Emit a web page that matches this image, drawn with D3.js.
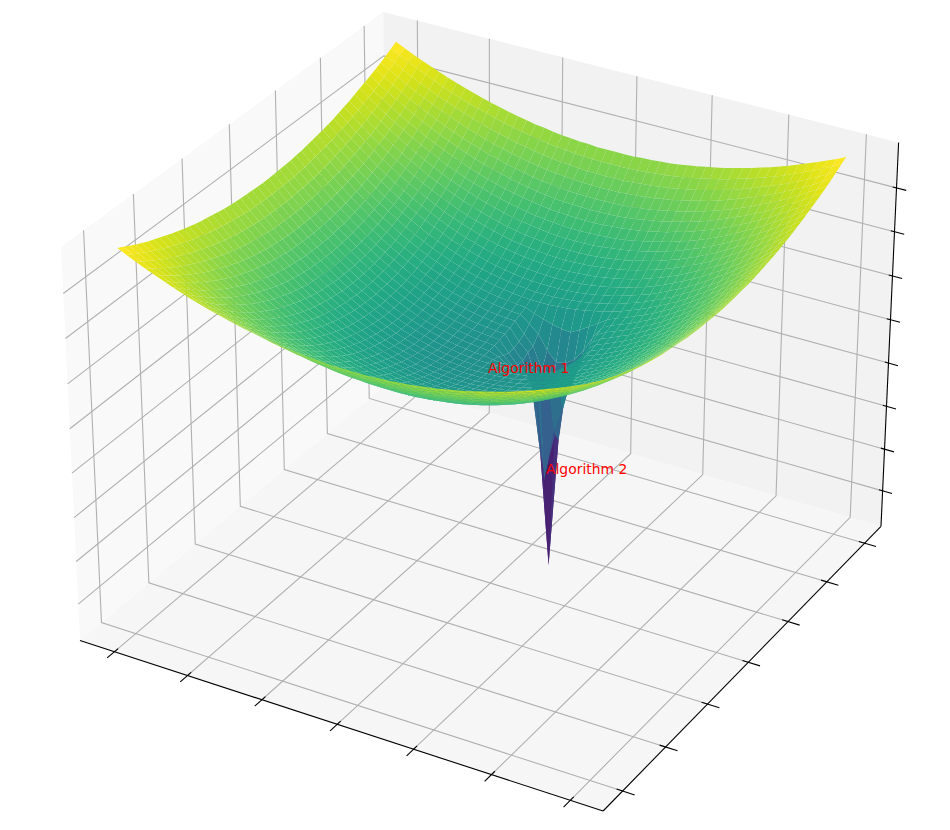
<!DOCTYPE html>
<html><head><meta charset="utf-8">
<style>html,body{margin:0;padding:0;background:#fff}svg{display:block}</style>
<script src="https://cdn.jsdelivr.net/npm/d3@7"></script></head>
<body><svg id="chart" width="950" height="830"></svg>
<script>
const xValues=[-1,-.96,-.92,-.88,-.84,-.8,-.76,-.72,-.68,-.64,-.6,-.56,-.52,-.48,-.44,-.4,-.36,-.32,-.28,-.24,-.2,-.16,-.12,-.08,-.04,0,.04,.08,.12,.16,.2,.24,.28,.32,.36,.4,.44,.48,.52,.56,.6,.64,.68,.72,.76,.8,.84,.88,.92,.96,1];
const yValues=[-1,-.96,-.92,-.88,-.84,-.8,-.76,-.72,-.68,-.64,-.6,-.56,-.52,-.48,-.44,-.4,-.36,-.32,-.28,-.24,-.2,-.16,-.12,-.08,-.04,0,.04,.08,.12,.16,.2,.24,.28,.32,.36,.4,.44,.48,.52,.56,.6,.64,.68,.72,.76,.8,.84,.88,.92,.96,1];
const xTicks=[-.989,-.656,-.322,.011,.344,.678,1.011];
const yTicks=[-1,-.667,-.333,0,.333,.667,1];
const zTicks=[96,208,322,436,549,662,775,886];
const colorDomain=[175,975];
const labels=["Algorithm 1","Algorithm 2"];
const zRows=[
[980,969,959,949,940,931,922,914,906,899,892,886,880,874,869,865,860,857,853,850,848,846,845,843,843,843,843,843,845,846,848,850,853,857,860,865,869,874,880,886,892,899,906,914,922,931,940,949,959,969,980],
[972,960,949,938,928,918,908,899,891,883,876,869,862,856,851,846,841,837,833,830,828,825,824,823,822,822,822,823,824,825,828,830,833,837,841,846,851,856,862,869,876,883,891,899,908,918,928,938,949,960,972],
[964,951,939,927,916,905,895,886,877,868,860,852,845,839,833,827,823,818,814,811,808,806,804,802,802,801,802,802,804,806,808,811,814,818,823,827,833,839,845,852,860,868,877,886,895,905,916,927,939,951,964],
[956,943,930,917,905,894,883,873,863,854,845,837,829,822,816,810,805,800,796,792,789,787,785,783,783,782,783,783,785,787,789,792,796,800,805,810,816,822,829,837,845,854,863,873,883,894,905,917,930,943,956],
[949,935,921,907,894,882,871,860,849,840,830,822,814,806,800,793,788,783,778,774,771,768,766,765,764,764,764,765,766,768,771,774,778,783,788,793,800,806,814,822,830,840,849,860,871,882,894,907,921,935,949],
[942,927,912,898,885,872,859,848,837,827,817,808,799,791,784,778,772,766,762,758,754,751,749,748,747,746,747,748,749,751,754,758,762,766,772,778,784,791,799,808,817,827,837,848,859,872,885,898,912,927,942],
[936,919,904,889,875,861,849,836,825,814,804,794,785,777,769,763,756,751,746,741,738,735,733,731,730,730,730,731,733,735,738,741,746,751,756,763,769,777,785,794,804,814,825,836,849,861,875,889,904,919,936],
[930,913,896,881,866,852,838,826,814,802,791,781,772,763,756,748,742,736,731,726,722,719,717,715,714,714,714,715,717,719,722,726,731,736,742,748,756,763,772,781,791,802,814,826,838,852,866,881,896,913,930],
[924,906,889,873,857,843,829,815,803,791,780,769,760,751,742,735,728,722,716,712,708,705,702,700,699,699,699,700,702,705,708,712,716,722,728,735,742,751,760,769,780,791,803,815,829,843,857,873,889,906,924],
[918,900,882,865,849,834,819,806,793,780,769,758,748,738,730,722,715,709,703,698,694,691,688,686,685,685,685,686,688,691,694,698,703,709,715,722,730,738,748,758,769,780,793,806,819,834,849,865,882,900,918],
[913,894,876,858,842,826,811,797,783,770,758,747,737,727,718,710,703,696,690,685,681,678,675,673,672,671,672,673,675,678,681,685,690,696,703,710,718,727,737,747,758,770,783,797,811,826,842,858,876,894,913],
[908,888,870,852,835,818,803,788,774,761,749,737,726,716,707,699,691,684,678,673,669,665,663,661,659,659,659,661,663,665,669,673,678,684,691,699,707,716,726,737,749,761,774,788,803,818,835,852,870,888,908],
[903,883,864,846,828,811,795,780,766,752,740,728,717,706,697,688,681,674,667,662,658,654,651,649,648,647,648,649,651,654,658,662,667,674,681,688,697,706,717,728,740,752,766,780,795,811,828,846,864,883,903],
[899,879,859,840,822,805,788,773,758,744,731,719,708,697,687,679,671,664,657,652,647,643,640,638,637,637,637,638,640,643,647,652,657,664,671,679,687,697,708,719,731,744,758,773,788,805,822,840,859,879,899],
[895,874,854,835,816,799,782,766,751,737,724,711,699,689,679,670,662,654,648,642,638,634,631,629,627,627,627,629,631,634,638,642,648,654,662,670,679,689,699,711,724,737,751,766,782,799,816,835,854,874,895],
[892,870,850,830,811,793,776,760,745,730,716,704,692,681,671,662,653,646,639,634,629,625,622,620,618,618,618,620,622,625,629,634,639,646,653,662,671,681,692,704,716,730,745,760,776,793,811,830,850,870,892],
[889,867,846,826,807,788,771,754,739,724,710,697,685,674,664,654,646,638,632,626,621,617,614,612,610,610,610,612,614,617,621,626,632,638,646,654,664,674,685,697,710,724,739,754,771,788,807,826,846,867,889],
[886,864,842,822,802,784,766,749,733,719,704,691,679,668,657,648,639,631,625,619,614,610,607,604,603,602,603,604,607,610,614,619,625,631,639,648,657,668,679,691,704,719,733,749,766,784,802,822,842,864,886],
[883,861,839,819,799,780,762,745,729,714,699,686,674,662,652,642,633,625,619,613,608,603,600,598,597,596,597,598,600,603,608,613,619,625,633,642,652,662,674,686,699,714,729,745,762,780,799,819,839,861,883],
[881,858,836,815,795,776,758,741,725,709,695,682,669,657,647,637,628,620,613,607,602,598,595,592,591,590,591,592,595,598,602,607,613,620,628,637,647,657,669,682,695,709,725,741,758,776,795,815,836,858,881],
[879,856,834,813,793,774,755,738,721,706,691,678,665,653,643,633,624,616,609,603,597,593,590,588,586,586,586,588,590,593,597,603,609,616,624,633,643,653,665,678,691,706,721,738,755,774,793,813,834,856,879],
[878,854,832,811,791,771,753,735,719,703,688,675,662,650,639,629,620,612,605,599,594,589,586,584,582,582,582,584,586,589,594,599,605,612,620,629,639,650,662,675,688,703,719,735,753,771,791,811,832,854,878],
[877,853,831,809,789,769,751,733,717,701,686,672,659,648,637,627,618,609,602,596,591,587,583,581,579,579,579,581,583,587,591,596,602,609,618,627,637,648,659,672,686,701,717,733,751,769,789,809,831,853,877],
[876,852,830,808,788,768,749,732,715,699,684,671,658,646,635,625,615,607,600,594,589,584,581,579,577,577,577,579,581,584,589,594,600,607,615,625,635,646,658,671,684,699,715,732,749,768,788,808,830,852,876],
[875,852,829,808,787,767,749,731,714,698,683,669,656,645,633,623,614,606,599,593,587,583,580,577,576,575,576,577,580,583,587,593,599,606,614,623,633,645,656,669,683,698,714,731,749,767,787,808,829,852,875],
[875,851,829,807,787,767,748,731,714,698,683,669,656,644,633,623,614,606,599,592,587,583,579,577,575,575,575,577,579,583,587,592,599,606,614,623,633,644,656,669,683,698,714,731,748,767,787,807,829,851,875],
[875,852,829,808,787,767,749,731,714,698,683,669,656,645,633,623,614,606,599,593,587,583,580,577,576,572,570,570,570,572,575,580,590,604,614,623,633,645,656,669,683,698,714,731,749,767,787,808,829,852,875],
[876,852,830,808,788,768,749,732,715,699,684,671,658,646,635,625,615,607,600,594,589,584,581,579,577,568,555,545,550,555,545,560,585,604,615,625,635,646,658,671,684,699,715,732,749,768,788,808,830,852,876],
[877,853,831,809,789,769,751,733,717,701,686,672,659,648,637,627,618,609,602,596,591,587,583,581,579,560,540,525,545,550,500,520,570,600,618,627,637,648,659,672,686,701,717,733,751,769,789,809,831,853,877],
[878,854,832,811,791,771,753,735,719,703,688,675,662,650,639,629,620,612,605,599,594,589,586,584,582,555,530,515,500,250,385,450,545,600,620,629,639,650,662,675,688,703,719,735,753,771,791,811,832,854,878],
[879,856,834,813,793,774,755,738,721,706,691,678,665,653,643,633,624,616,609,603,597,593,590,588,586,555,530,470,300,12,350,530,555,605,624,633,643,653,665,678,691,706,721,738,755,774,793,813,834,856,879],
[881,858,836,815,795,776,758,741,725,709,695,682,669,657,647,637,628,620,613,607,602,598,595,592,591,562,540,470,240,340,440,500,560,612,628,637,647,657,669,682,695,709,725,741,758,776,795,815,836,858,881],
[883,861,839,819,799,780,762,745,729,714,699,686,674,662,652,642,633,625,619,613,608,603,600,598,597,570,545,490,450,450,470,520,575,620,633,642,652,662,674,686,699,714,729,745,762,780,799,819,839,861,883],
[886,864,842,822,802,784,766,749,733,719,704,691,679,668,657,648,639,631,625,619,614,610,607,604,603,585,565,530,505,510,525,555,595,627,639,648,657,668,679,691,704,719,733,749,766,784,802,822,842,864,886],
[889,867,846,826,807,788,771,754,739,724,710,697,685,674,664,654,646,638,632,626,621,617,614,612,610,600,592,585,580,578,590,605,620,636,646,654,664,674,685,697,710,724,739,754,771,788,807,826,846,867,889],
[892,870,850,830,811,793,776,760,745,730,716,704,692,681,671,662,653,646,639,634,629,625,622,620,618,618,618,620,622,625,629,634,639,646,653,662,671,681,692,704,716,730,745,760,776,793,811,830,850,870,892],
[895,874,854,835,816,799,782,766,751,737,724,711,699,689,679,670,662,654,648,642,638,634,631,629,627,627,627,629,631,634,638,642,648,654,662,670,679,689,699,711,724,737,751,766,782,799,816,835,854,874,895],
[899,879,859,840,822,805,788,773,758,744,731,719,708,697,687,679,671,664,657,652,647,643,640,638,637,637,637,638,640,643,647,652,657,664,671,679,687,697,708,719,731,744,758,773,788,805,822,840,859,879,899],
[903,883,864,846,828,811,795,780,766,752,740,728,717,706,697,688,681,674,667,662,658,654,651,649,648,647,648,649,651,654,658,662,667,674,681,688,697,706,717,728,740,752,766,780,795,811,828,846,864,883,903],
[908,888,870,852,835,818,803,788,774,761,749,737,726,716,707,699,691,684,678,673,669,665,663,661,659,659,659,661,663,665,669,673,678,684,691,699,707,716,726,737,749,761,774,788,803,818,835,852,870,888,908],
[913,894,876,858,842,826,811,797,783,770,758,747,737,727,718,710,703,696,690,685,681,678,675,673,672,671,672,673,675,678,681,685,690,696,703,710,718,727,737,747,758,770,783,797,811,826,842,858,876,894,913],
[918,900,882,865,849,834,819,806,793,780,769,758,748,738,730,722,715,709,703,698,694,691,688,686,685,685,685,686,688,691,694,698,703,709,715,722,730,738,748,758,769,780,793,806,819,834,849,865,882,900,918],
[924,906,889,873,857,843,829,815,803,791,780,769,760,751,742,735,728,722,716,712,708,705,702,700,699,699,699,700,702,705,708,712,716,722,728,735,742,751,760,769,780,791,803,815,829,843,857,873,889,906,924],
[930,913,896,881,866,852,838,826,814,802,791,781,772,763,756,748,742,736,731,726,722,719,717,715,714,714,714,715,717,719,722,726,731,736,742,748,756,763,772,781,791,802,814,826,838,852,866,881,896,913,930],
[936,919,904,889,875,861,849,836,825,814,804,794,785,777,769,763,756,751,746,741,738,735,733,731,730,730,730,731,733,735,738,741,746,751,756,763,769,777,785,794,804,814,825,836,849,861,875,889,904,919,936],
[942,927,912,898,885,872,859,848,837,827,817,808,799,791,784,778,772,766,762,758,754,751,749,748,747,746,747,748,749,751,754,758,762,766,772,778,784,791,799,808,817,827,837,848,859,872,885,898,912,927,942],
[949,935,921,907,894,882,871,860,849,840,830,822,814,806,800,793,788,783,778,774,771,768,766,765,764,764,764,765,766,768,771,774,778,783,788,793,800,806,814,822,830,840,849,860,871,882,894,907,921,935,949],
[956,943,930,917,905,894,883,873,863,854,845,837,829,822,816,810,805,800,796,792,789,787,785,783,783,782,783,783,785,787,789,792,796,800,805,810,816,822,829,837,845,854,863,873,883,894,905,917,930,943,956],
[964,951,939,927,916,905,895,886,877,868,860,852,845,839,833,827,823,818,814,811,808,806,804,802,802,801,802,802,804,806,808,811,814,818,823,827,833,839,845,852,860,868,877,886,895,905,916,927,939,951,964],
[972,960,949,938,928,918,908,899,891,883,876,869,862,856,851,846,841,837,833,830,828,825,824,823,822,822,822,823,824,825,828,830,833,837,841,846,851,856,862,869,876,883,891,899,908,918,928,938,949,960,972],
[980,969,959,949,940,931,922,914,906,899,892,886,880,874,869,865,860,857,853,850,848,846,845,843,843,843,843,843,845,846,848,850,853,857,860,865,869,874,880,886,892,899,906,914,922,931,940,949,959,969,980]
];

/* ---- camera (elev 30, azim -60, box 4:4:3) ---- */
const rad=Math.PI/180, el=30*rad, az=-60*rad, dist=10;
const boxK=1.9057/Math.hypot(4,4,3), box=[4*boxK,4*boxK,3*boxK];
const R=box.map(v=>v/2);
const E=[R[0]+dist*Math.cos(el)*Math.cos(az),R[1]+dist*Math.cos(el)*Math.sin(az),R[2]+dist*Math.sin(el)];
const dot=(a,b)=>a[0]*b[0]+a[1]*b[1]+a[2]*b[2];
const cross=(a,b)=>[a[1]*b[2]-a[2]*b[1],a[2]*b[0]-a[0]*b[2],a[0]*b[1]-a[1]*b[0]];
const norm=a=>{const l=Math.hypot(...a);return a.map(v=>v/l)};
const fw=norm(R.map((v,i)=>v-E[i])), rt=norm(cross(fw,[0,0,1])), upv=cross(rt,fw);
function cam(p){const d=[p[0]*box[0]-E[0],p[1]*box[1]-E[1],p[2]*box[2]-E[2]];const w=dot(d,fw);return [dot(d,rt)/w,dot(d,upv)/w,w];}
const sx=d3.scaleLinear().domain([cam([0,0,0])[0],cam([1,1,0])[0]]).range([80,881]);
const sy=d3.scaleLinear().domain([cam([1,0,0])[1],cam([0,1,1])[1]]).range([811,12]);
const P=p=>{const c=cam(p);return [sx(c[0]),sy(c[1])]};
const dataX=d3.scaleLinear().domain([-1.148,1.148]).range([0,1]);
const dataY=d3.scaleLinear().domain([-1.148,1.148]).range([0,1]);
const dataZ=d3.scaleLinear().domain([0,1000]).range([0,1]);
const line=d3.line();
const svg=d3.select("#chart");
const poly=pts=>line(pts.map(P))+"Z";

/* panes */
const panes=[
 {c:[[0,0,0],[1,0,0],[1,1,0],[0,1,0]],f:"#f6f6f6"},
 {c:[[0,0,0],[0,1,0],[0,1,1],[0,0,1]],f:"#f9f9f9"},
 {c:[[0,1,0],[1,1,0],[1,1,1],[0,1,1]],f:"#f2f2f2"}];
svg.append("g").selectAll("path").data(panes).join("path").attr("d",d=>poly(d.c)).attr("fill",d=>d.f);

/* grid */
const grid=[];
xTicks.forEach(t=>{const x=dataX(t);grid.push([[x,0,0],[x,1,0],[x,1,1]])});
yTicks.forEach(t=>{const y=dataY(t);grid.push([[1,y,0],[0,y,0],[0,y,1]])});
zTicks.forEach(t=>{const z=dataZ(t);grid.push([[0,0,z],[0,1,z],[1,1,z]])});
svg.append("g").selectAll("path").data(grid).join("path").attr("d",d=>line(d.map(P)))
 .attr("fill","none").attr("stroke","#b0b0b0").attr("stroke-width",1.1);

/* axis lines and ticks */
const axes=[[[0,0,0],[1,0,0]],[[1,0,0],[1,1,0]],[[1,1,0],[1,1,1]]];
const ticks=[];
xTicks.forEach(t=>{const x=dataX(t);ticks.push([[x,-.022,0],[x,.011,0]])});
yTicks.forEach(t=>{const y=dataY(t);ticks.push([[1.022,y,0],[.989,y,0]])});
zTicks.forEach(t=>{const z=dataZ(t);ticks.push([[1.018,1,z],[.993,1,z]])});
svg.append("g").selectAll("path").data(axes.concat(ticks)).join("path").attr("d",d=>line(d.map(P)))
 .attr("fill","none").attr("stroke","#000").attr("stroke-width",1.1);

/* surface, painted far to near */
const cells=[];
for(let j=0;j<yValues.length-1;j++)for(let i=0;i<xValues.length-1;i++){
 const pts=[[i,j],[i+1,j],[i+1,j+1],[i,j+1]].map(([a,b])=>[dataX(xValues[a]),dataY(yValues[b]),dataZ(zRows[b][a])]);
 const mean=d3.mean([zRows[j][i],zRows[j][i+1],zRows[j+1][i+1],zRows[j+1][i]]);
 cells.push({pts,mean,depth:d3.mean(pts,p=>cam(p)[2])});
}
cells.sort((a,b)=>b.depth-a.depth);
const color=d3.scaleSequential(d3.interpolateViridis).domain(colorDomain);
svg.append("g").selectAll("path").data(cells).join("path").attr("d",d=>poly(d.pts)).attr("fill",d=>color(d.mean));

/* labels */
const labelPos=[[488,373],[546,474]];
svg.append("g").selectAll("text").data(labels).join("text").text(d=>d)
 .attr("x",(d,i)=>labelPos[i][0]).attr("y",(d,i)=>labelPos[i][1])
 .attr("fill","red").attr("font-family","DejaVu Sans").attr("font-size",13.9);
</script></body></html>
